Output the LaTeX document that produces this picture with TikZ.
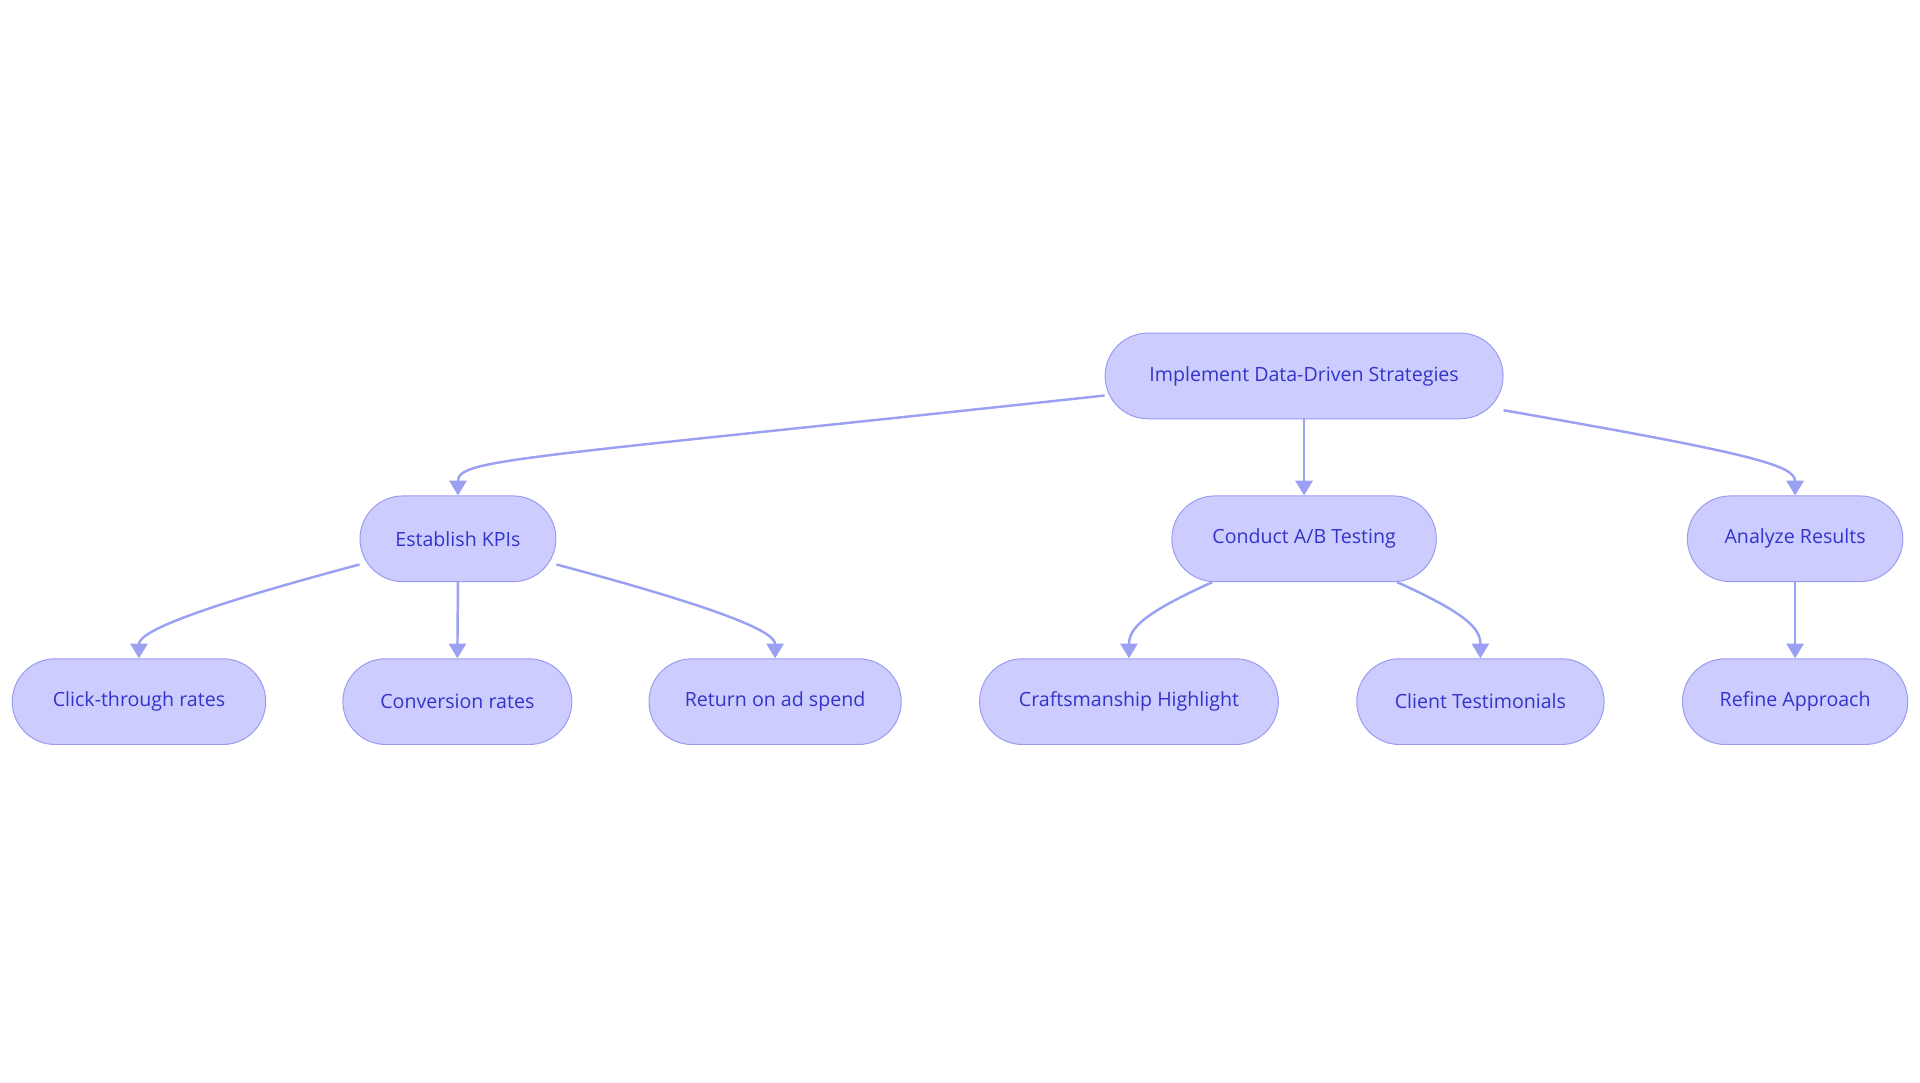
\documentclass[tikz,border=0pt]{standalone}
\usepackage{fontspec}
\setmainfont{Open Sans}
\usetikzlibrary{arrows.meta}
\definecolor{nfill}{HTML}{CCCCFF}
\definecolor{ndraw}{HTML}{9A9AF0}
\definecolor{ntext}{HTML}{3434C8}
\definecolor{edge}{HTML}{9AA0F2}
\tikzset{
 box/.style={draw=ndraw,fill=nfill,text=ntext,rounded corners=35pt,minimum height=70pt,inner sep=0pt,font=\fontsize{16}{19}\selectfont,line width=0.8pt},
 conn/.style={draw=edge,line width=2pt,-{Triangle[width=14pt,length=12pt]}}
}
\begin{document}
\begin{tikzpicture}[x=1pt,y=1pt]
\useasboundingbox (0,0) rectangle (1568,-884);
\node[box,minimum width=325pt] (root) at (1065,-307) {Implement Data-Driven Strategies};
\node[box,minimum width=160pt] (kpi) at (374,-440) {Establish KPIs};
\node[box,minimum width=216pt] (ab) at (1065,-440) {Conduct A/B Testing};
\node[box,minimum width=176pt] (an) at (1466,-440) {Analyze Results};
\node[box,minimum width=207pt] (click) at (113.5,-573) {Click-through rates};
\node[box,minimum width=187pt] (conv) at (373.5,-573) {Conversion rates};
\node[box,minimum width=206pt] (ret) at (633,-573) {Return on ad spend};
\node[box,minimum width=244pt] (craft) at (922,-573) {Craftsmanship Highlight};
\node[box,minimum width=202pt] (client) at (1209,-573) {Client Testimonials};
\node[box,minimum width=184pt] (ref) at (1466,-573) {Refine Approach};
\draw[conn] ([yshift=-16pt]root.west) .. controls +(-480,-52) and +(0,30) .. (kpi.north);
\draw[conn] (root.south) -- (ab.north);
\draw[conn] ([yshift=-28pt]root.east) .. controls +(200,-35) and +(0,25) .. (an.north);
\draw[conn] ([yshift=-21pt]kpi.west) .. controls +(-150,-40) and +(0,20) .. (click.north);
\draw[conn] (kpi.south) -- (conv.north);
\draw[conn] ([yshift=-21pt]kpi.east) .. controls +(150,-40) and +(0,20) .. (ret.north);
\draw[conn] ([xshift=-75pt]ab.south) .. controls +(-55,-25) and +(0,25) .. (craft.north);
\draw[conn] ([xshift=76pt]ab.south) .. controls +(55,-25) and +(0,25) .. (client.north);
\draw[conn] (an.south) -- (ref.north);
\end{tikzpicture}
\end{document}
